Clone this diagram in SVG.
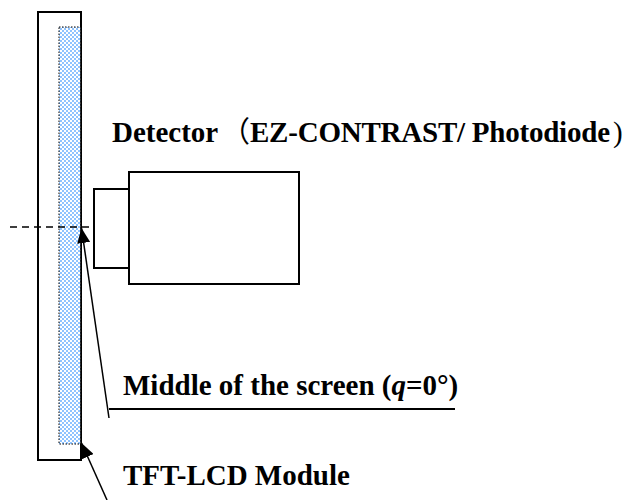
<svg xmlns="http://www.w3.org/2000/svg" width="627" height="500" viewBox="0 0 627 500">
<defs>
<pattern id="chk" width="4" height="4" patternUnits="userSpaceOnUse">
<rect width="4" height="4" fill="#ffffff"/>
<rect width="2" height="2" fill="#8fc3ff"/>
<rect x="2" y="2" width="2" height="2" fill="#8fc3ff"/>
</pattern>
<marker id="ah" viewBox="0 0 10 10" refX="10" refY="5" markerWidth="15" markerHeight="13" markerUnits="userSpaceOnUse" orient="auto" preserveAspectRatio="none">
<path d="M0,0 L10,5 L0,10 z" fill="#000"/>
</marker>
<style>
.box{fill:#fff;stroke:#000;stroke-width:2}
.lbl{font-family:"Liberation Serif","Noto Sans CJK JP",serif;font-weight:bold;font-size:29px;fill:#000}
.cjk{font-family:"Noto Sans CJK JP",sans-serif;font-weight:normal}
.thin{font-weight:normal}
.ln{stroke:#000;stroke-width:1.5;fill:none}
</style>
</defs>
<rect width="627" height="500" fill="#fff"/>
<g id="lcd-module">
<rect class="box" x="38" y="12" width="43" height="448"/>
<rect x="59" y="27" width="22" height="417" fill="url(#chk)" stroke="#000" stroke-width="1" stroke-dasharray="1.5,1.5"/>
<line x1="81" y1="12" x2="81" y2="460" stroke="#000" stroke-width="1.5"/>
</g>
<g id="detector">
<rect class="box" x="94" y="189" width="35" height="79"/>
<rect class="box" x="129" y="172" width="170" height="112"/>
</g>
<g id="connectors">
<line x1="10" y1="227" x2="94" y2="227" stroke="#000" stroke-width="1.5" stroke-dasharray="7,5"/>
<line class="ln" x1="109" y1="418" x2="81.5" y2="228" marker-end="url(#ah)"/>
<line class="ln" x1="107" y1="500" x2="81.5" y2="443" marker-end="url(#ah)"/>
<line x1="109" y1="409" x2="455" y2="409" stroke="#000" stroke-width="2"/>
</g>
<g id="label-detector">
<text class="lbl" y="142"><tspan x="112">Detector</tspan><tspan class="cjk" x="221">（</tspan><tspan x="250" textLength="360" lengthAdjust="spacing">EZ-CONTRAST/ Photodiode</tspan><tspan class="thin" x="613">)</tspan></text>
</g>
<g id="label-middle">
<text class="lbl" x="123" y="395">Middle of the screen (<tspan font-style="italic">q</tspan>=0°)</text>
</g>
<g id="label-module">
<text class="lbl" x="123" y="485">TFT-LCD Module</text>
</g>
</svg>
